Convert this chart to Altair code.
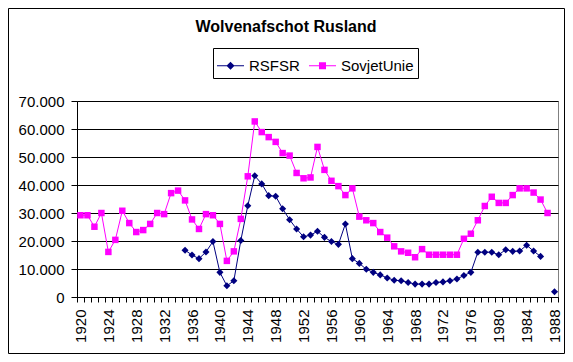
import altair as alt
import pandas as pd

years = list(range(1920, 1989))

rsfsr = [None] * 15 + [
    16700, 15000, 13700, 16100, 19800,
    8800, 4000, 5800, 20200, 32600,
    43300, 40400, 36200, 36000, 31500,
    27600, 24300, 21500, 22100, 23500,
    21300, 19800, 18800, 26100, 13700,
    12000, 9900, 8800, 7900, 6800,
    6000, 5800, 5200, 4600, 4600,
    4600, 5200, 5400, 5800, 6400,
    7700, 8800, 16000, 16000, 16000,
    15100, 16900, 16300, 16400, 18500,
    16400, 14500,
    None, 1900,
]

sovjet = [
    29200, 29200, 25100, 30000, 16100,
    20400, 30800, 26400, 23200, 23900,
    26100, 30000, 29600, 37100, 38000,
    34500, 27700, 24300, 29600, 29200,
    26100, 12900, 16300, 27900, 43100,
    62700, 58900, 57100, 55400, 51400,
    50500, 44300, 42400, 42700, 53600,
    45400, 41500, 39600, 36400, 38800,
    28700, 27400, 26400, 23200, 21200,
    18100, 16300, 15800, 14200, 17100,
    15100, 15100, 15100, 15100, 15100,
    20800, 22600, 27400, 32500, 35800,
    33600, 33600, 36400, 38800, 38800,
    37300, 34800, 30000,
    None,
]

series_names = ["RSFSR", "SovjetUnie"]
series_colors = ["#000080", "#FF00FF"]
y_ticks = [0, 10000, 20000, 30000, 40000, 50000, 60000, 70000]

rows = []
for name, vals in zip(series_names, [rsfsr, sovjet]):
    for yr, v in zip(years, vals):
        rows.append({"year": yr, "series": name, "value": v})
df = pd.DataFrame(rows)
df["seg"] = df.groupby("series")["value"].transform(lambda s: s.isna().cumsum())
df = df.dropna(subset=["value"]).reset_index(drop=True)

FONT = "Liberation Sans"
x_ticks = [yr - 0.5 for yr in years] + [years[-1] + 0.5]

x_enc = alt.X(
    "year:Q",
    title=None,
    scale=alt.Scale(domain=[years[0] - 0.5, years[-1] + 0.5], nice=False, zero=False),
    axis=alt.Axis(
        values=x_ticks,
        labelExpr="(datum.value + 0.5) % 4 == 0 ? format(datum.value + 0.5, 'd') : ''",
        labelAngle=270,
        labelOffset=3.5,
        labelPadding=7,
        tickSize=5,
        tickColor="black",
        domainColor="black",
        labelFont=FONT,
        labelFontSize=15,
        labelColor="black",
        labelOverlap=False,
        labelFlush=False,
        labelBound=False,
        grid=False,
    ),
)
y_enc = alt.Y(
    "value:Q",
    title=None,
    scale=alt.Scale(domain=[0, 70000], nice=False),
    axis=alt.Axis(
        values=y_ticks,
        labelExpr="replace(format(datum.value, ','), ',', '.')",
        tickSize=6,
        labelPadding=7,
        tickColor="black",
        domainColor="black",
        labelFont=FONT,
        labelFontSize=15,
        labelColor="black",
        grid=True,
        gridColor="black",
        gridOpacity=1,
        gridWidth=1,
    ),
)

base = alt.Chart(df)

line_r = base.transform_filter(alt.datum.series == "RSFSR").mark_line(
    color=series_colors[0], strokeWidth=1
).encode(x=x_enc, y=y_enc, detail="seg:N")
line_s = base.transform_filter(alt.datum.series == "SovjetUnie").mark_line(
    color=series_colors[1], strokeWidth=1
).encode(x=x_enc, y=y_enc, detail="seg:N")
pts_r = base.transform_filter(alt.datum.series == "RSFSR").mark_point(
    shape="diamond", filled=True, size=50, color=series_colors[0], opacity=1
).encode(x=x_enc, y=y_enc)
pts_s = base.transform_filter(alt.datum.series == "SovjetUnie").mark_point(
    shape="square", filled=True, size=42, color=series_colors[1], opacity=1
).encode(x=x_enc, y=y_enc)

legend_paths = [
    "M-1,-0.04L1,-0.04L1,0.04L-1,0.04Z M0,-0.3L0.3,0L0,0.3L-0.3,0Z",
    "M-1,-0.04L1,-0.04L1,0.04L-1,0.04Z M-0.26,-0.26L0.26,-0.26L0.26,0.26L-0.26,0.26Z",
]

leg = alt.Legend(
    title=None,
    orient="none",
    legendX=136,
    legendY=-53,
    direction="horizontal",
    columns=2,
    symbolSize=729,
    symbolStrokeWidth=0,
    symbolOpacity=1,
    labelFont=FONT,
    labelFontSize=15,
    labelColor="black",
    labelOffset=5,
    columnPadding=9,
    padding=4,
    strokeColor="black",
    fillColor="white",
)

legend_layer = base.transform_filter("false").mark_point(filled=True, opacity=1).encode(
    color=alt.Color("series:N", scale=alt.Scale(domain=series_names, range=series_colors), legend=leg),
    shape=alt.Shape("series:N", scale=alt.Scale(domain=series_names, range=legend_paths), legend=leg),
)

frame = alt.Chart(alt.Data(values=[{}])).mark_rect(
    fillOpacity=0, stroke="black", strokeWidth=1
).encode(
    x=alt.value(-68.5), x2=alt.value(487.5), y=alt.value(-92.5), y2=alt.value(252.5)
)

title = alt.Chart(alt.Data(values=[{}])).mark_text(
    text="Wolvenafschot Rusland",
    font=FONT,
    fontSize=16,
    fontWeight="bold",
    align="center",
    baseline="alphabetic",
    color="black",
).encode(x=alt.value(209), y=alt.value(-69))

chart = alt.layer(frame, title, line_r, line_s, pts_r, pts_s, legend_layer).properties(
    width=481,
    height=196,
    padding={"left": 69, "top": 93, "right": 7, "bottom": 57},
    autosize=alt.AutoSizeParams(type="none"),
    background="white",
).configure_view(fill="#C0C0C0", stroke="#808080")

chart.save("out.html", embed_options={"renderer": "svg", "actions": False})
